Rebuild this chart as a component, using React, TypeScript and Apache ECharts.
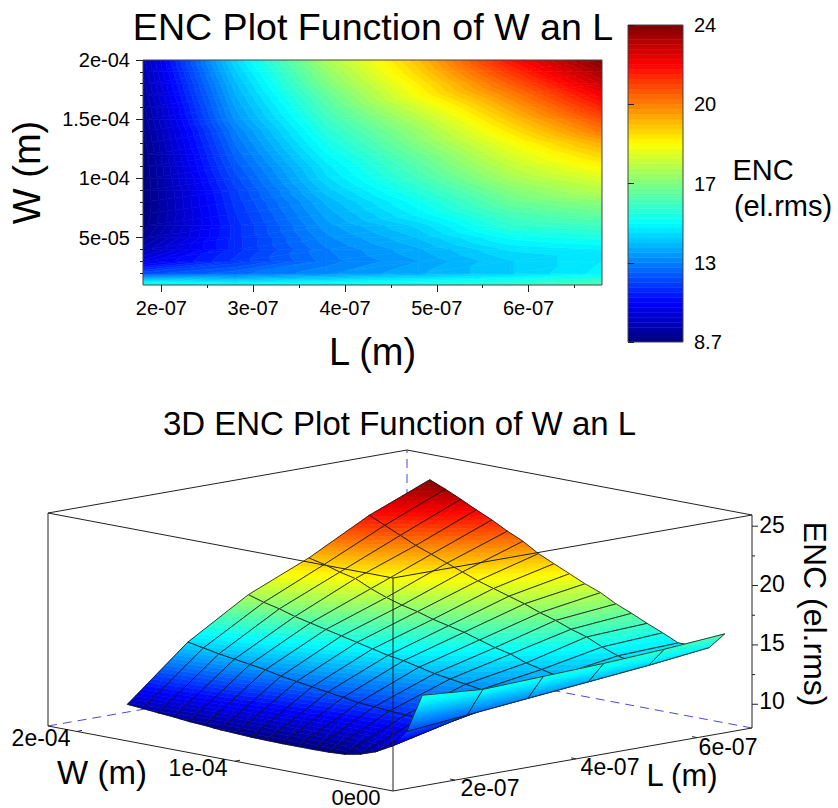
import React, { useEffect, useRef } from "react";
import * as echarts from "echarts";

// ---------- data ----------
const lengths = [1.8e-7, 2.8e-7, 3.8e-7, 4.8e-7, 5.8e-7, 6.8e-7];
const widths = [
  1e-5, 2e-5, 3e-5, 4e-5, 5e-5, 6e-5, 7e-5, 8e-5, 9e-5, 1e-4,
  1.1e-4, 1.2e-4, 1.3e-4, 1.4e-4, 1.5e-4, 1.6e-4, 1.7e-4, 1.8e-4, 1.9e-4, 2e-4,
];
// one list per L, each running over widths
const encL18 = [15, 11.7, 10.2, 9.5, 9.05, 8.8, 8.72, 8.7, 8.7, 8.7, 8.72, 8.75, 8.82, 8.88, 9.0, 9.08, 9.22, 9.32, 9.45, 9.55];
const encL28 = [14.6, 12.2, 11.4, 11.2, 11.2, 11.2, 11.3, 11.4, 11.5, 11.7, 11.9, 12.1, 12.3, 12.5, 12.8, 13.0, 13.2, 13.4, 13.65, 13.9];
const encL38 = [14.8, 12.7, 12.4, 12.5, 12.7, 12.9, 13.1, 13.3, 13.6, 13.9, 14.1, 14.4, 14.7, 15.0, 15.3, 15.6, 15.9, 16.3, 16.6, 17.0];
const encL48 = [15.0, 13.2, 13.0, 13.2, 13.5, 13.8, 14.3, 14.6, 15.0, 15.4, 15.7, 16.0, 16.4, 16.7, 17.1, 17.6, 18.2, 18.5, 18.9, 19.2];
const encL58 = [15.3, 13.7, 13.7, 14.0, 14.5, 15.1, 15.5, 16.0, 16.4, 16.9, 17.3, 17.7, 18.1, 18.6, 19.1, 19.6, 20.1, 20.7, 21.3, 21.9];
const encL68 = [15.7, 14.3, 14.2, 14.2, 14.8, 15.35, 15.95, 16.5, 17.2, 17.7, 18.3, 18.9, 19.5, 20.3, 20.9, 21.6, 22.2, 22.85, 23.45, 24.0];
const encTable = [encL18, encL28, encL38, encL48, encL58, encL68];

const encMin = 8.7;
const encMax = 24;
const jetStops = ["#00007f", "#0000ff", "#007fff", "#00ffff", "#7fff7f", "#ffff00", "#ff7f00", "#ff0000", "#7f0000"];
const bandCount = 64;

const xMajorValues = [2e-7, 3e-7, 4e-7, 5e-7, 6e-7];
const xMajorLabels = ["2e-07", "3e-07", "4e-07", "5e-07", "6e-07"];
const xMinorValues = [2.5e-7, 3.5e-7, 4.5e-7, 5.5e-7, 6.5e-7];
const yMajorValues = [5e-5, 1e-4, 1.5e-4, 2e-4];
const yMajorLabels = ["5e-05", "1e-04", "1.5e-04", "2e-04"];
const yMinorValues = [2e-5, 3e-5, 4e-5, 6e-5, 7e-5, 8e-5, 9e-5, 1.1e-4, 1.2e-4, 1.3e-4, 1.4e-4, 1.6e-4, 1.7e-4, 1.8e-4, 1.9e-4];
const barTickValues = [8.7, 12.525, 16.35, 20.175, 24];
const barTickLabels = ["8.7", "13", "17", "20", "24"];

const zMajor = [10, 15, 20, 25];
const zMinor = [12.5, 17.5, 22.5];
const wTicks3d = [1e-4, 2e-4];
const lTicks3d = [2e-7, 4e-7, 6e-7];

const FONT = '"Liberation Sans", Arial, sans-serif';

// ---------- colour and iso-bands ----------
const bandColor = (k: number) => echarts.color.lerp((k + 0.5) / bandCount, jetStops) as string;
const bandColors = Array.from({ length: bandCount }, (_, k) => bandColor(k));
const bandEdge = (k: number) => encMin + ((encMax - encMin) * k) / bandCount;

type P = [number, number, number];

function clipHalf(poly: P[], limit: number, keepAbove: boolean): P[] {
  const out: P[] = [];
  const inside = (p: P) => (keepAbove ? p[2] >= limit : p[2] <= limit);
  for (let i = 0; i < poly.length; i++) {
    const a = poly[i];
    const b = poly[(i + 1) % poly.length];
    const ia = inside(a);
    const ib = inside(b);
    if (ia) out.push(a);
    if (ia !== ib) {
      const t = (limit - a[2]) / (b[2] - a[2]);
      out.push([a[0] + (b[0] - a[0]) * t, a[1] + (b[1] - a[1]) * t, limit]);
    }
  }
  return out;
}

// Filled contour of one measured mesh cell: the cell is drawn as flat colour bands.
function cellBands(a: P, b: P, c: P, d: P) {
  const children: any[] = [];
  for (const tri of [[a, b, c], [a, c, d]] as P[][]) {
    const vs = tri.map((p) => p[2]);
    const lo = Math.min(...vs);
    const hi = Math.max(...vs);
    const k0 = Math.max(0, Math.floor(((lo - encMin) / (encMax - encMin)) * bandCount));
    const k1 = Math.min(bandCount - 1, Math.floor(((hi - encMin) / (encMax - encMin)) * bandCount));
    for (let k = k0; k <= k1; k++) {
      let poly = clipHalf(tri, bandEdge(k), true);
      if (poly.length) poly = clipHalf(poly, bandEdge(k + 1), false);
      if (poly.length < 3) continue;
      children.push({
        type: "polygon",
        silent: true,
        shape: { points: poly.map((p) => [p[0], p[1]]) },
        style: { fill: bandColors[k], stroke: bandColors[k], lineWidth: 0.6 },
      });
    }
  }
  return children;
}

// ---------- oblique 3D projection of the lower plot ----------
const FRONT = [393, 791];
const U_VEC = [359, -63];
const V_VEC = [-345, -65];
const Z_BASE = 8;
const Z_SCALE = 11.87;
const BOX_TOP = Z_BASE + 213 / Z_SCALE;
const uOf = (L: number) => 0.173 + ((L - 2e-7) / 1e-7) * 0.1685;
const vOf = (W: number) => 0.015 + (W / 1e-5) * 0.045;
const boxPoint = (u: number, v: number, z: number): [number, number] => [
  FRONT[0] + U_VEC[0] * u + V_VEC[0] * v,
  FRONT[1] + U_VEC[1] * u + V_VEC[1] * v - (z - Z_BASE) * Z_SCALE,
];
const project = (L: number, W: number, z: number) => boxPoint(uOf(L), vOf(W), z);

const cells: number[][] = [];
for (let j = 0; j < widths.length - 1; j++) for (let i = 0; i < lengths.length - 1; i++) cells.push([i, j]);
// painter's order: far corner (large W, large L) first
const cells3d: number[][] = [];
for (let j = widths.length - 2; j >= 0; j--) for (let i = lengths.length - 2; i >= 0; i--) cells3d.push([i, j]);

type Seg = { a: [number, number]; b: [number, number]; dashed?: boolean };
const backSegs: Seg[] = [
  { a: boxPoint(1, 1, Z_BASE), b: boxPoint(1, 1, BOX_TOP), dashed: true },
  { a: boxPoint(0, 1, Z_BASE), b: boxPoint(1, 1, Z_BASE), dashed: true },
  { a: boxPoint(1, 0, Z_BASE), b: boxPoint(1, 1, Z_BASE), dashed: true },
  { a: boxPoint(0, 1, BOX_TOP), b: boxPoint(1, 1, BOX_TOP) },
  { a: boxPoint(1, 0, BOX_TOP), b: boxPoint(1, 1, BOX_TOP) },
  { a: boxPoint(0, 1, Z_BASE), b: boxPoint(0, 1, BOX_TOP) },
  { a: boxPoint(1, 0, Z_BASE), b: boxPoint(1, 0, BOX_TOP) },
];
const frontSegs: Seg[] = [
  { a: boxPoint(0, 0, Z_BASE), b: boxPoint(0, 0, BOX_TOP) },
  { a: boxPoint(0, 0, BOX_TOP), b: boxPoint(0, 1, BOX_TOP) },
  { a: boxPoint(0, 0, BOX_TOP), b: boxPoint(1, 0, BOX_TOP) },
  { a: boxPoint(0, 0, Z_BASE), b: boxPoint(0, 1, Z_BASE) },
  { a: boxPoint(0, 0, Z_BASE), b: boxPoint(1, 0, Z_BASE) },
];
for (const z of zMajor) {
  const p = boxPoint(1, 0, z);
  frontSegs.push({ a: p, b: [p[0] + 6, p[1]] });
}
for (const z of zMinor) {
  const p = boxPoint(1, 0, z);
  frontSegs.push({ a: p, b: [p[0] + 3, p[1]] });
}
for (const w of wTicks3d) {
  const p = boxPoint(0, (w / 1e-5) * 0.0458, Z_BASE);
  frontSegs.push({ a: p, b: [p[0] + 5, p[1] - 1] });
}
for (const l of lTicks3d) {
  const p = boxPoint(uOf(l), 0, Z_BASE);
  frontSegs.push({ a: p, b: [p[0] - 5, p[1] - 1] });
}

const segItem = (s: Seg) => ({
  type: "line",
  silent: true,
  shape: { x1: s.a[0], y1: s.a[1], x2: s.b[0], y2: s.b[1] },
  style: s.dashed
    ? { stroke: "#4a4ad8", lineWidth: 1, lineDash: [9, 6] }
    : { stroke: "#222", lineWidth: 1 },
});

const label = (text: string, x: number, y: number, fontSize: number, rotation = 0) => ({
  type: "text",
  x,
  y,
  rotation,
  z: 20,
  silent: true,
  style: { text, fontSize, fontFamily: FONT, fill: "#000", textAlign: "center", textVerticalAlign: "middle" },
});

const nearestLabel = (values: number[], labels: string[]) => (v: number) => {
  let best = 0;
  values.forEach((c, i) => {
    if (Math.abs(c - v) < Math.abs(values[best] - v)) best = i;
  });
  return labels[best];
};

const tickLine = { lineStyle: { color: "#222", width: 1 } };

function buildOption(): any {
  return {
    animation: false,
    backgroundColor: "#fff",
    textStyle: { fontFamily: FONT },
    title: [
      { text: "ENC Plot Function of W an L", left: 368, top: 3, textAlign: "center", textStyle: { fontSize: 37.6, fontWeight: "normal", color: "#000", fontFamily: FONT } },
      { text: "3D ENC Plot Function of W an L", left: 394.5, top: 402, textAlign: "center", textStyle: { fontSize: 33, fontWeight: "normal", color: "#000", fontFamily: FONT } },
    ],
    grid: [
      { left: 140, top: 60, width: 462, height: 225, show: true, borderColor: "#444", borderWidth: 1, backgroundColor: "transparent", z: 5 },
      { left: 628, top: 25, width: 55, height: 317, show: true, borderColor: "#444", borderWidth: 1, backgroundColor: "transparent", z: 5 },
    ],
    xAxis: [
      {
        gridIndex: 0, type: "value", min: 1.8e-7, max: 6.8e-7, position: "bottom", z: 6,
        name: "L (m)", nameLocation: "middle", nameGap: 48,
        nameTextStyle: { fontSize: 38, color: "#000", fontFamily: FONT, verticalAlign: "top" },
        splitLine: { show: false }, axisLine: { show: false },
        axisTick: { show: true, length: 7, customValues: xMajorValues, ...tickLine },
        axisLabel: { show: true, margin: 13, fontSize: 20, color: "#000", fontFamily: FONT, customValues: xMajorValues, formatter: nearestLabel(xMajorValues, xMajorLabels) },
      },
      {
        gridIndex: 0, type: "value", min: 1.8e-7, max: 6.8e-7, position: "bottom", z: 6,
        splitLine: { show: false }, axisLine: { show: false }, axisLabel: { show: false },
        axisTick: { show: true, length: 3, customValues: xMinorValues, ...tickLine },
      },
      { gridIndex: 1, type: "value", min: 0, max: 1, show: false },
    ],
    yAxis: [
      {
        gridIndex: 0, type: "value", min: 1e-5, max: 2e-4, position: "left", z: 6,
        name: "W (m)", nameLocation: "middle", nameGap: 97, nameRotate: 90,
        nameTextStyle: { fontSize: 38, color: "#000", fontFamily: FONT },
        splitLine: { show: false }, axisLine: { show: false },
        axisTick: { show: true, length: 7, customValues: yMajorValues, ...tickLine },
        axisLabel: { show: true, margin: 13, fontSize: 20, color: "#000", fontFamily: FONT, customValues: yMajorValues, formatter: nearestLabel(yMajorValues, yMajorLabels) },
      },
      {
        gridIndex: 0, type: "value", min: 1e-5, max: 2e-4, position: "left", z: 6,
        splitLine: { show: false }, axisLine: { show: false }, axisLabel: { show: false },
        axisTick: { show: true, length: 3, customValues: yMinorValues, ...tickLine },
      },
      {
        gridIndex: 1, type: "value", min: encMin, max: encMax, position: "right", z: 6,
        splitLine: { show: false }, axisLine: { show: false },
        axisTick: { show: true, length: 6, customValues: barTickValues, ...tickLine },
        axisLabel: { show: true, margin: 11, fontSize: 20, color: "#000", fontFamily: FONT, customValues: barTickValues, formatter: nearestLabel(barTickValues, barTickLabels) },
      },
    ],
    series: [
      {
        type: "custom", xAxisIndex: 0, yAxisIndex: 0, clip: true, silent: true,
        data: cells.map(([i, j]) => [lengths[i], widths[j]]),
        renderItem: (params: any, api: any) => {
          const [i, j] = cells[params.dataIndex];
          const pt = (a: number, b: number): P => {
            const c = api.coord([lengths[a], widths[b]]);
            return [c[0], c[1], encTable[a][b]];
          };
          return { type: "group", children: cellBands(pt(i, j), pt(i + 1, j), pt(i + 1, j + 1), pt(i, j + 1)) };
        },
      },
      {
        type: "custom", xAxisIndex: 2, yAxisIndex: 2, clip: true, silent: true,
        data: bandColors.map((_, k) => [0.5, bandEdge(k)]),
        renderItem: (params: any, api: any) => {
          const k = params.dataIndex;
          const p0 = api.coord([0, bandEdge(k)]);
          const p1 = api.coord([1, bandEdge(k + 1)]);
          return {
            type: "rect",
            shape: { x: p0[0], y: p1[1], width: p1[0] - p0[0], height: p0[1] - p1[1] },
            style: { fill: bandColors[k], stroke: bandColors[k], lineWidth: 0.5 },
          };
        },
      },
      {
        type: "custom", coordinateSystem: "none", silent: true, z: 2,
        data: backSegs.map((_, i) => [i]),
        renderItem: (params: any) => segItem(backSegs[params.dataIndex]),
      },
      {
        type: "custom", coordinateSystem: "none", silent: true, z: 3,
        data: cells3d.map(([i, j]) => [lengths[i], widths[j]]),
        renderItem: (params: any) => {
          const [i, j] = cells3d[params.dataIndex];
          const pt = (a: number, b: number): P => {
            const c = project(lengths[a], widths[b], encTable[a][b]);
            return [c[0], c[1], encTable[a][b]];
          };
          const q = [pt(i, j), pt(i + 1, j), pt(i + 1, j + 1), pt(i, j + 1)];
          const children = cellBands(q[0], q[1], q[2], q[3]);
          children.push({
            type: "polygon",
            silent: true,
            shape: { points: q.map((p) => [p[0], p[1]]) },
            style: { fill: "none", stroke: "#111", lineWidth: 0.8 },
          });
          return { type: "group", children };
        },
      },
      {
        type: "custom", coordinateSystem: "none", silent: true, z: 4,
        data: frontSegs.map((_, i) => [i]),
        renderItem: (params: any) => segItem(frontSegs[params.dataIndex]),
      },
    ],
    graphic: {
      elements: [
        label("ENC", 763, 170, 29),
        label("(el.rms)", 783, 206, 29),
        label("ENC (el.rms)", 815, 614, 32, -Math.PI / 2),
        label("W (m)", 102, 772, 33),
        label("L (m)", 682, 775, 31),
        label("2e-04", 41, 738, 23),
        label("1e-04", 198, 768, 23),
        label("0e00", 356, 797, 22),
        label("2e-07", 490, 788, 23),
        label("4e-07", 610, 767, 23),
        label("6e-07", 728, 747, 23),
        label("25", 772, 525, 23),
        label("20", 772, 584, 23),
        label("15", 772, 643, 23),
        label("10", 772, 701, 23),
      ],
    },
  };
}

export default function App() {
  const ref = useRef<HTMLDivElement>(null);
  useEffect(() => {
    const chart = echarts.init(ref.current!, undefined, { renderer: "svg" });
    chart.setOption(buildOption());
    return () => chart.dispose();
  }, []);
  return <div ref={ref} style={{ position: "absolute", left: 0, top: 0, width: 838, height: 808 }} />;
}
